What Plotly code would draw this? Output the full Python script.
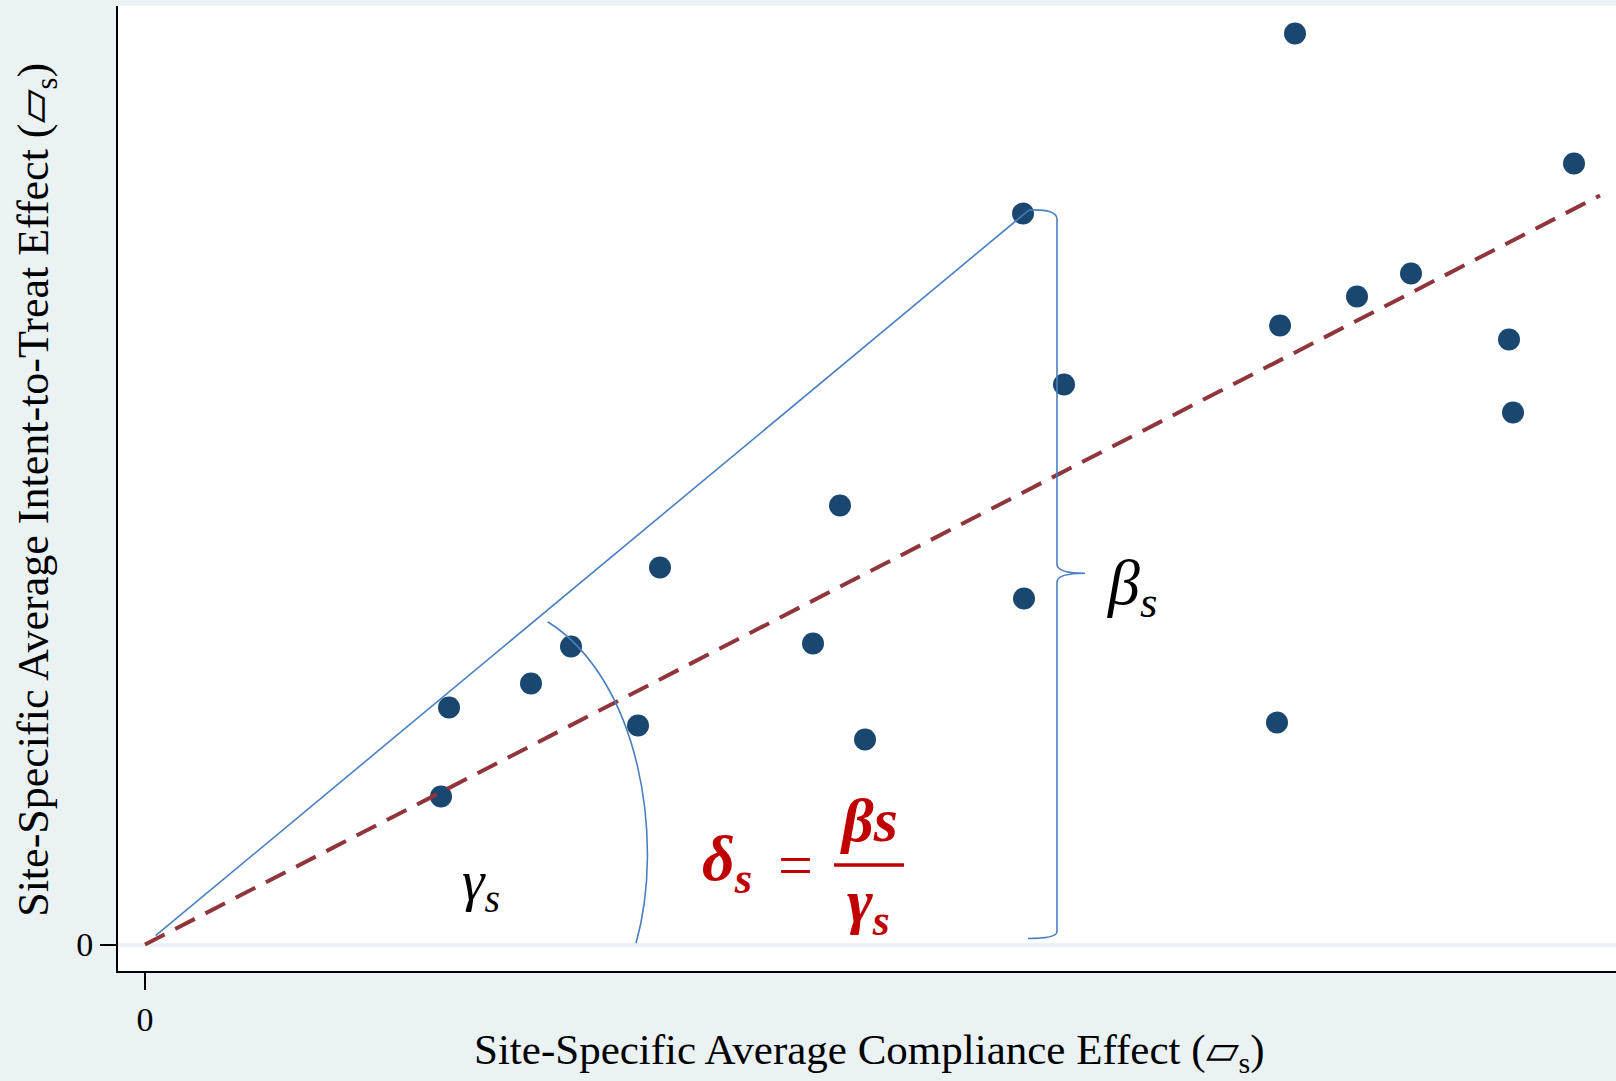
import plotly.graph_objects as go

# ---- data (arbitrary effect units; origin = 0,0) ----
compliance = [11.50, 14.29, 8.78, 12.66, 12.12, 11.35, 13.64, 9.19, 13.68, 6.95,
              5.15, 8.79, 4.26, 6.68, 3.86, 3.04, 4.93, 11.32, 7.20, 2.96]
itt = [9.11, 7.81, 7.31, 6.71, 6.48, 6.19, 6.05, 5.60, 5.32, 4.39,
       3.77, 3.46, 2.98, 3.01, 2.61, 2.37, 2.19, 2.22, 2.05, 1.48]
fit_x = [0.0, 14.55]
fit_y = [0.0, 7.49]
highlight = 2          # the site used to illustrate beta_s / gamma_s
x_ticks = [0]
y_ticks = [0]
x_tick_labels = ["0"]
y_tick_labels = ["0"]

NAVY = "#1a476f"
MAROON = "#90353b"
BLUE = "#4a7fc1"
RED = "#c00000"
BG = "#eaf2f3"
SERIF = "Liberation Serif, Times New Roman, serif"

hx, hy = compliance[highlight], itt[highlight]
top_x, top_y = hx + 0.06, hy + 0.035

fig = go.Figure()
fig.add_trace(go.Scatter(x=compliance, y=itt, mode="markers",
                         marker=dict(size=22, color=NAVY, line=dict(width=0)),
                         showlegend=False, hoverinfo="x+y"))
fig.add_trace(go.Scatter(x=[top_x * 0.012, top_x], y=[top_y * 0.012, top_y], mode="lines",
                         line=dict(color=BLUE, width=1.6), showlegend=False, hoverinfo="skip"))
fig.add_trace(go.Scatter(x=fit_x, y=fit_y, mode="lines",
                         line=dict(color=MAROON, width=4, dash="22px,12px"),
                         showlegend=False, hoverinfo="skip"))

# angle arc (gamma_s)
arc = "M 4.027,3.228 C 4.95,2.645 5.20,1.045 4.91,0.012"
fig.add_shape(type="path", path=arc, xref="x", yref="y", line=dict(color=BLUE, width=1.6))

# curly brace (beta_s)
vx, tipx = top_x + 0.28, top_x + 0.56
mid = (top_y + 0.06) / 2 + 0.01
bot = 0.06
brace = (f"M {top_x},{top_y} Q {vx},{top_y + 0.01} {vx},{top_y - 0.09} "
         f"L {vx},{mid + 0.09} Q {vx},{mid} {tipx},{mid} "
         f"Q {vx},{mid} {vx},{mid - 0.09} "
         f"L {vx},{bot + 0.07} Q {vx},{bot} {top_x - 0.01},{bot}")
fig.add_shape(type="path", path=brace, xref="x", yref="y", line=dict(color=BLUE, width=1.6))

# fraction bar
fig.add_shape(type="line", x0=6.89, x1=7.59, y0=0.795, y1=0.795, xref="x", yref="y",
              line=dict(color=RED, width=3.5))

def ann(text, x, y, size, color="black", bold=False, xanchor="center"):
    t = f"<b><i>{text}</i></b>" if bold else f"<i>{text}</i>"
    fig.add_annotation(text=t, x=x, y=y, xref="x", yref="y", showarrow=False,
                       font=dict(family=SERIF, size=size, color=color),
                       xanchor=xanchor, yanchor="middle")

ann("γ<sub>s</sub>", 3.36, 0.60, 57)
ann("β<sub>s</sub>", 9.86, 3.58, 64)
ann("δ<sub>s</sub>", 5.55, 0.82, 64, RED, True, "left")
fig.add_annotation(text="=", x=6.50, y=0.80, xref="x", yref="y", showarrow=False,
                   font=dict(family=SERIF, size=62, color=RED))
ann("βs", 7.235, 1.25, 62, RED, True)
ann("γ<sub>s</sub>", 7.235, 0.39, 62, RED, True)

# axis titles
fig.add_annotation(text="Site-Specific Average Compliance Effect (▱<sub>s</sub>)",
                   x=0.5017, y=-0.085, xref="paper", yref="paper", showarrow=False,
                   font=dict(family=SERIF, size=43, color="black"), yanchor="middle")
fig.add_annotation(text="Site-Specific Average Intent-to-Treat Effect (▱<sub>s</sub>)",
                   x=-0.0545, y=0.499, xref="paper", yref="paper", showarrow=False,
                   textangle=-90, font=dict(family=SERIF, size=44, color="black"),
                   xanchor="center", yanchor="middle")

fig.update_layout(
    width=1616, height=1081,
    margin=dict(l=118, r=0, t=6, b=110),
    paper_bgcolor=BG, plot_bgcolor="white",
    xaxis=dict(range=[-0.27, 14.71], tickvals=x_ticks, ticktext=x_tick_labels,
               ticks="outside", ticklen=17, tickwidth=2, tickcolor="black",
               showline=True, linecolor="black", linewidth=2, showgrid=False,
               zeroline=False, tickfont=dict(family=SERIF, size=34, color="black")),
    yaxis=dict(range=[-0.265, 9.385], tickvals=y_ticks, ticktext=y_tick_labels,
               ticks="outside", ticklen=16, tickwidth=2, tickcolor="black",
               showline=True, linecolor="black", linewidth=2, showgrid=False,
               zeroline=True, zerolinecolor=BG, zerolinewidth=4,
               tickfont=dict(family=SERIF, size=34, color="black")),
)

fig.write_html("out.html")
